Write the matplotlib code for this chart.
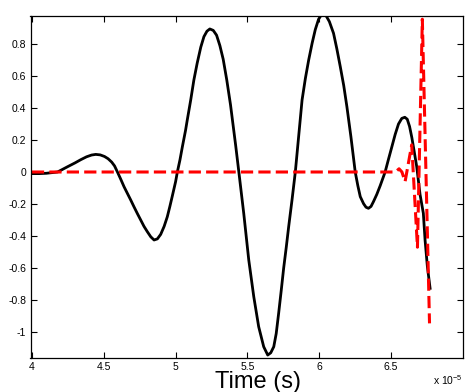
import numpy as np
import matplotlib
matplotlib.use('Agg')
import matplotlib.pyplot as plt
from matplotlib.ticker import FuncFormatter

plt.rcParams['font.family'] = ['Liberation Sans', 'DejaVu Sans']

# time axis in units of 1e-5 s
t_sig = [4.00, 4.05, 4.10, 4.14, 4.178, 4.21, 4.248, 4.30, 4.34, 4.38, 4.415, 4.444,
         4.475, 4.505, 4.53, 4.555, 4.575, 4.595, 4.618, 4.641, 4.665, 4.6875, 4.71,
         4.735, 4.757, 4.78, 4.803, 4.827, 4.85, 4.873, 4.896, 4.92, 4.942, 4.96,
         4.977, 5.00, 5.012, 5.03, 5.047, 5.069, 5.081, 5.105, 5.127, 5.15, 5.175,
         5.197, 5.218, 5.238, 5.262, 5.285, 5.308, 5.331, 5.356, 5.382, 5.394, 5.418,
         5.44, 5.474, 5.509, 5.544, 5.578, 5.613, 5.641, 5.662, 5.683, 5.70, 5.717,
         5.735, 5.752, 5.77, 5.787, 5.81, 5.833, 5.857, 5.88, 5.903, 5.926, 5.95,
         5.972, 5.995, 6.02, 6.045, 6.07, 6.099, 6.122, 6.146, 6.17, 6.192, 6.22,
         6.25, 6.268, 6.285, 6.308, 6.325, 6.342, 6.36, 6.377, 6.40, 6.424, 6.44,
         6.458, 6.48, 6.505, 6.528, 6.551, 6.574, 6.595, 6.612, 6.628, 6.644, 6.66,
         6.678, 6.701, 6.724, 6.736, 6.752, 6.771]
y_sig = [-0.01, -0.01, -0.008, -0.004, 0.0, 0.015, 0.033, 0.057, 0.077, 0.095, 0.106, 0.110,
         0.107, 0.097, 0.083, 0.062, 0.038, 0.0, -0.045, -0.092, -0.135, -0.175, -0.217,
         -0.262, -0.300, -0.340, -0.373, -0.405, -0.425, -0.418, -0.390, -0.340, -0.280, -0.215,
         -0.150, -0.060, 0.0, 0.075, 0.158, 0.260, 0.325, 0.450, 0.575, 0.680, 0.780,
         0.846, 0.880, 0.894, 0.885, 0.855, 0.790, 0.705, 0.575, 0.420, 0.335, 0.165,
         0.0, -0.258, -0.550, -0.780, -0.967, -1.092, -1.144, -1.130, -1.092, -1.010, -0.883,
         -0.740, -0.600, -0.470, -0.340, -0.175, 0.0, 0.230, 0.450, 0.585, 0.700, 0.805,
         0.890, 0.955, 0.990, 0.980, 0.940, 0.867, 0.770, 0.658, 0.540, 0.408, 0.220,
         0.0, -0.085, -0.154, -0.198, -0.220, -0.227, -0.215, -0.185, -0.140, -0.085, -0.045,
         0.0, 0.075, 0.158, 0.235, 0.300, 0.335, 0.342, 0.330, 0.285, 0.215, 0.130,
         0.033, -0.140, -0.258, -0.425, -0.590, -0.727]

t_ref = [4.00, 6.53, 6.555, 6.575, 6.597, 6.643, 6.683, 6.717, 6.767]
y_ref = [0.0, 0.0, 0.02, 0.0, -0.06, 0.17, -0.47, 0.955, -0.946]

xticks = [4, 4.5, 5, 5.5, 6, 6.5]
yticks = [-1, -0.8, -0.6, -0.4, -0.2, 0, 0.2, 0.4, 0.6, 0.8]

fig = plt.figure(figsize=(4.73, 3.92), dpi=100)
ax = fig.add_axes([30.5 / 473, 1 - 358 / 392, 432.5 / 473, 342 / 392])

ax.plot(t_sig, y_sig, color='black', lw=2)
ax.plot(t_ref, y_ref, color='red', lw=2.2, dashes=(4, 1.7))

ax.set_xlim(3.99, 7.0)
ax.set_ylim(-1.1625, 0.975)
ax.set_xticks(xticks)
ax.set_yticks(yticks)
fmt = FuncFormatter(lambda v, p: ('%g' % v).replace('\u2212', '-'))
ax.xaxis.set_major_formatter(fmt)
ax.yaxis.set_major_formatter(fmt)
ax.tick_params(direction='in', length=4.5, width=0.8, labelsize=7.5,
               top=True, right=True, pad=3)
for s in ax.spines.values():
    s.set_linewidth(0.9)

ax.set_xlabel('Time (s)', fontsize=17)
ax.xaxis.set_label_coords(0.525, -0.038)
ax.text(1.0, -0.043, r'x 10$^{\mathregular{-5}}$', transform=ax.transAxes,
        ha='right', va='top', fontsize=7.5)

fig.savefig('out.png', dpi=100)
